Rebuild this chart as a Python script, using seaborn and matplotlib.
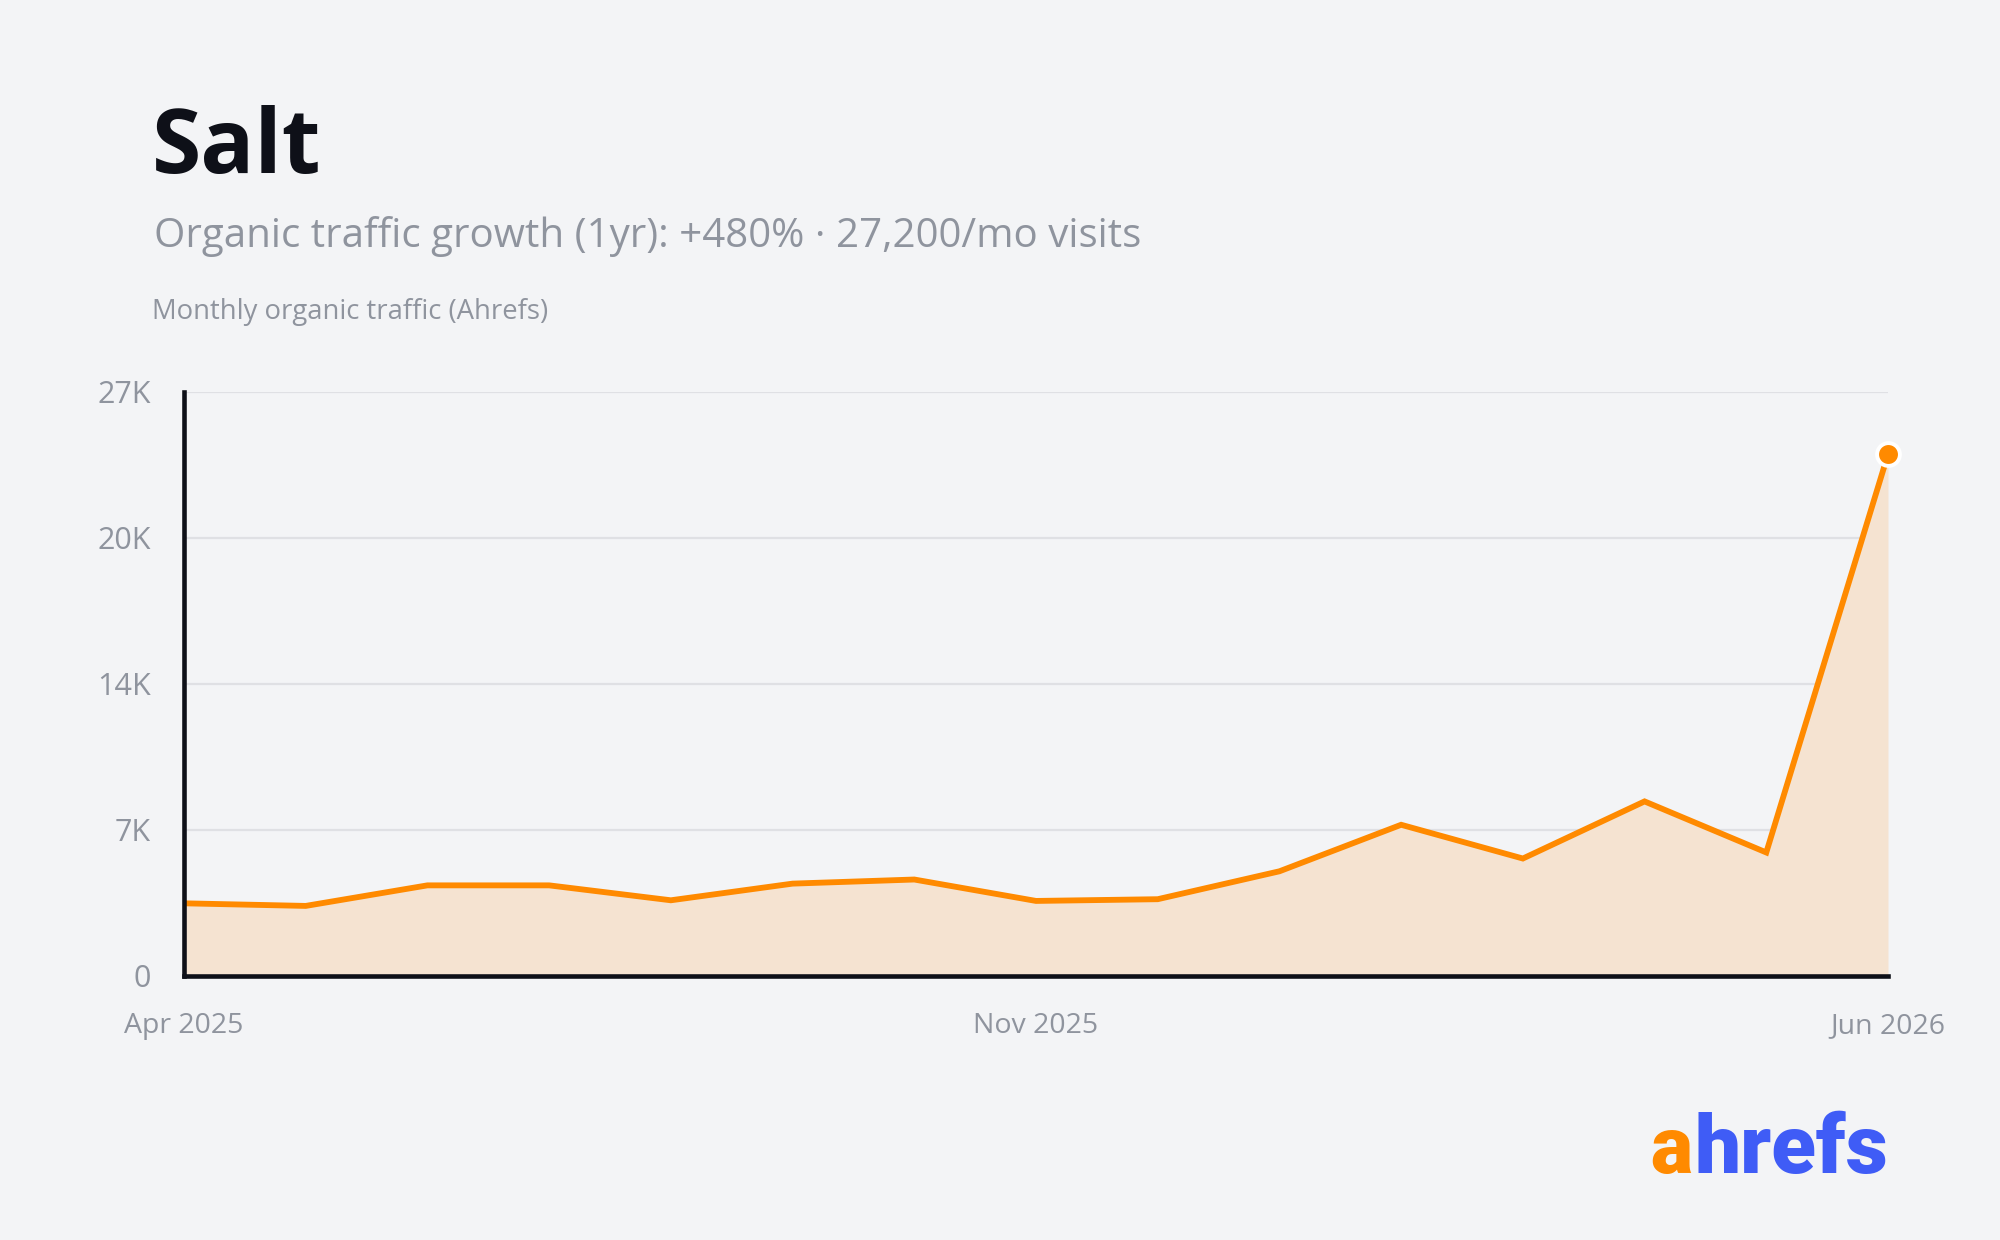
import matplotlib
matplotlib.use("Agg")
import matplotlib.pyplot as plt
import seaborn as sns
import pandas as pd
import numpy as np

# ---- data ----
months = ["Apr 2025", "May 2025", "Jun 2025", "Jul 2025", "Aug 2025", "Sep 2025",
          "Oct 2025", "Nov 2025", "Dec 2025", "Jan 2026", "Feb 2026", "Mar 2026",
          "Apr 2026", "May 2026", "Jun 2026"]
traffic = [3350, 3230, 4180, 4180, 3490, 4260, 4450, 3460, 3540, 4830,
           6980, 5420, 8060, 5700, 24100]
y_ticks = [0, 6750, 13500, 20250, 27000]
y_tick_labels = ["0", "7K", "14K", "20K", "27K"]
x_tick_labels = ["Apr 2025", "Nov 2025", "Jun 2026"]

title = "Salt"
subtitle = "Organic traffic growth (1yr): +480% \u00b7 27,200/mo visits"
axis_caption = "Monthly organic traffic (Ahrefs)"

BG = "#f3f4f6"
ORANGE = "#ff8a00"
FILL = "#f5e3d1"
DARK = "#0e1018"
GRAY = "#8f949e"
GRID = "#dfe0e4"
BLUE = "#3f5cf6"

sns.set_theme(style="white")
plt.rcParams["font.family"] = ["Open Sans", "DejaVu Sans"]

df = pd.DataFrame({"idx": np.arange(len(months)), "month": months, "traffic": traffic})

W, H = 2000, 1240
fig = plt.figure(figsize=(W / 100, H / 100), dpi=100, facecolor=BG)

left, right = 184, 1888
top, bottom = 391.6, 975.8
ax = fig.add_axes([left / W, 1 - bottom / H, (right - left) / W, (bottom - top) / H])
ax.set_facecolor(BG)

# grid lines
for t in y_ticks[1:]:
    ax.axhline(t, color=GRID, lw=1.6, zorder=0)

ax.fill_between(df["idx"], 0, df["traffic"], color=FILL, lw=0, zorder=1)
sns.lineplot(data=df, x="idx", y="traffic", ax=ax, color=ORANGE, lw=4.2,
             zorder=3, solid_joinstyle="miter", solid_capstyle="projecting")
last = df.iloc[[-1]]
ax.scatter(last["idx"], last["traffic"], s=270, color=ORANGE, edgecolor="white",
           linewidths=2.8, zorder=5, clip_on=False)

ax.set_xlim(0, len(months) - 1)
ax.set_ylim(0, 27000)
ax.set_yticks(y_ticks)
ax.set_yticklabels(y_tick_labels)
x_pos = [months.index(m) for m in x_tick_labels]
ax.set_xticks(x_pos)
ax.set_xticklabels(x_tick_labels)
ax.set_xlabel("")
ax.set_ylabel("")
ax.tick_params(axis="y", length=0, pad=24, labelsize=22, labelcolor=GRAY)
ax.tick_params(axis="x", length=0, pad=26, labelsize=20.5, labelcolor=GRAY)

for s in ["top", "right"]:
    ax.spines[s].set_visible(False)
for s in ["left", "bottom"]:
    ax.spines[s].set_color(DARK)
    ax.spines[s].set_linewidth(3.3)
    ax.spines[s].set_zorder(6)

def fy(y):
    return 1 - y / H

fig.text(152 / W, fy(172.5), title, fontsize=64.5, fontweight="bold", color=DARK, va="baseline")
fig.text(154 / W, fy(247), subtitle, fontsize=29, color=GRAY, va="baseline")
fig.text(152 / W, fy(319.5), axis_caption, fontsize=19.8, color=GRAY, va="baseline")

# logo
fig.text(1692 / W, fy(1173), "a", fontsize=57, fontweight="heavy", color=ORANGE,
         va="baseline", ha="right", family="Roboto")
fig.text(1888 / W, fy(1173), "hrefs", fontsize=59, fontweight="heavy", color=BLUE,
         va="baseline", ha="right", family="Roboto")

fig.savefig("out.png", dpi=100, facecolor=BG)
